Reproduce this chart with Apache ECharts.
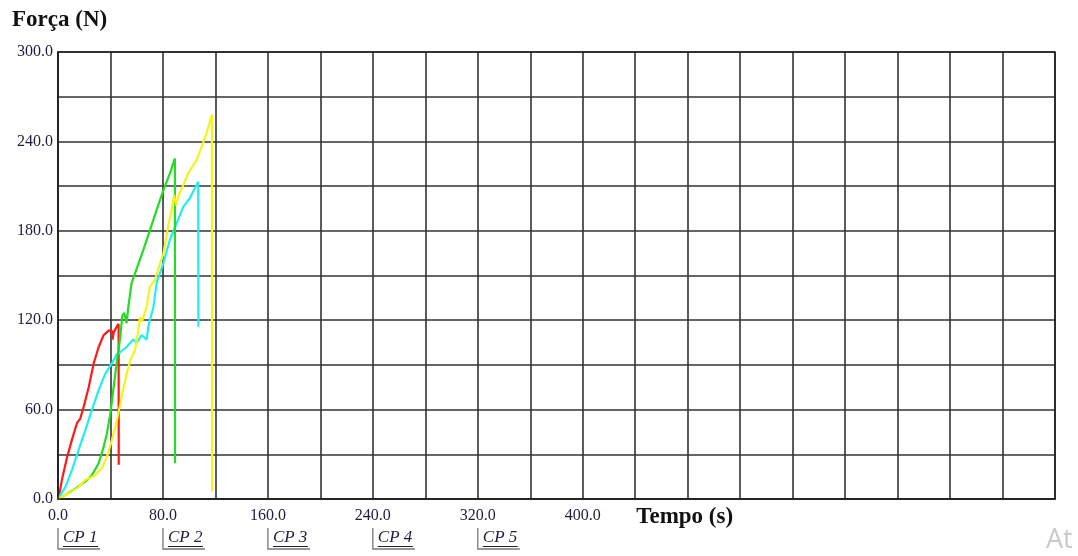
<!DOCTYPE html>
<html>
<head>
<meta charset="utf-8">
<script src="https://cdn.jsdelivr.net/npm/echarts@6/dist/echarts.min.js"></script>
<style>
html,body{margin:0;padding:0;background:#fff;}
#chart{width:1078px;height:556px;}
</style>
</head>
<body>
<div id="chart"></div>
<script>
// ---- data (tempo s, força N) ----
const redT = [0,1,3,6.9,10.7,14.5,17,19.6,23.4,27.2,31,34.8,38.6,41,41.6,42.5,45,46.2,46.3];
const redF = [0,3,13,28,40,51,54,62,75,91,102,110,113,113,107,112,116,117.5,23];

const cyanT = [0,5.6,10.7,15.7,20.8,25.9,31,36,41,44.7,48,52.3,57.4,60,63.8,67.6,68.8,70,72.6,75.2,77.7,80.2,85.3,90.4,95.5,100.6,104,106.9,107];
const cyanF = [0,8,19.5,33,46,60,73,84,91,97,99,102,107,105,110,107,115.6,120,128,145,151.5,158,174,185,196,202,208,213,115.6];

const greenT = [0,5.6,13.2,20.8,25.9,31,34.8,37.3,39.9,42.4,45,47.5,49,50.5,52.3,53.6,56.1,58.7,65,70.1,75.2,80.2,85.3,89.1,89.2];
const greenF = [0,2.7,7,11.6,16,24,35,44,57.5,75,93,109,123,125,118,129,145,151.5,167,180.5,194,207,218.6,228.6,24];

const yellowT = [0,8.1,15.7,20.8,28.4,33.5,37.3,41.1,45,47.5,50,52.6,55.1,58.7,61.2,62.5,64,67.6,70.1,73.9,77.7,80.2,84,86.6,88.5,90,92,94.2,99.3,105.7,109.5,113,117.3,117.5];
const yellowF = [0,3.8,8,12.8,16,20.6,28.4,39.6,53,64,75,85,93,100,113,122,119,129,142.5,147,158,164,183,194,204,197,204,208,218.6,227.5,236.4,245,258,5];

const cpLabels = ['CP 1','CP 2','CP 3','CP 4','CP 5'];
const cpAt = [0,80,160,240,320];

const xLabelMax = 400;
const yTitle = 'Força (N)';
const xTitle = 'Tempo (s)';

function pairs(t,f){ return t.map((v,i)=>[v,f[i]]); }

const serif = '"Liberation Serif","DejaVu Serif",serif';
const labelColor = '#1e1e3c';

const chart = echarts.init(document.getElementById('chart'));
function lineSeries(name, t, f, color){
  return {name, type:'line', data:pairs(t,f), showSymbol:false, smooth:false,
    lineStyle:{color, width:2.2}, itemStyle:{color}, animation:false};
}
chart.setOption({
  animation:false,
  grid:{left:58, right:23, top:52, bottom:57},
  xAxis:{type:'value', min:0, max:760, interval:40,
    axisLine:{show:true, lineStyle:{color:'#222', width:1.6}},
    axisTick:{show:false},
    splitLine:{show:true, lineStyle:{color:'#333', width:1.6}},
    axisLabel:{show:true, interval:0, margin:9, color:labelColor, fontFamily:serif, fontSize:16,
      showMaxLabel:true,
      formatter:v=> (v%80===0 && v<=xLabelMax) ? v.toFixed(1) : ''}
  },
  yAxis:{type:'value', min:0, max:300, interval:30,
    axisLine:{show:true, lineStyle:{color:'#222', width:1.6}},
    axisTick:{show:false},
    splitLine:{show:true, lineStyle:{color:'#333', width:1.6}},
    axisLabel:{margin:5, color:labelColor, fontFamily:serif, fontSize:16,
      formatter:v=> v%60===0 ? v.toFixed(1) : ''}
  },
  series:[
    lineSeries('CP 1', redT, redF, '#ff1a1a'),
    lineSeries('CP 4', cyanT, cyanF, '#22eeee'),
    lineSeries('CP 2', greenT, greenF, '#22dd22'),
    lineSeries('CP 3', yellowT, yellowF, '#f4f41a')
  ]
});

const g = [];
const tl = chart.convertToPixel({gridIndex:0},[0,300]);
const br = chart.convertToPixel({gridIndex:0},[760,0]);
g.push({type:'rect', shape:{x:tl[0], y:tl[1], width:br[0]-tl[0], height:br[1]-tl[1]},
  style:{fill:'none', stroke:'#222', lineWidth:1.6}, silent:true, z:10});

g.push({type:'text', x:12, y:9, style:{text:yTitle, font:'bold 23px '+serif, fill:'#111'}});
const xt = chart.convertToPixel({xAxisIndex:0}, 440);
g.push({type:'text', x:xt+1, y:506, style:{text:xTitle, font:'bold 23px '+serif, fill:'#111'}});

cpAt.forEach((t,i)=>{
  const px = chart.convertToPixel({xAxisIndex:0}, t);
  g.push({type:'polyline', shape:{points:[[px,528],[px,549],[px+42,549]]},
    style:{stroke:'#777', lineWidth:1.3, fill:'none'}, silent:true});
  g.push({type:'text', x:px+5, y:529, style:{text:cpLabels[i], font:'italic 17px '+serif, fill:labelColor}});
  g.push({type:'line', shape:{x1:px+5, y1:546.5, x2:px+40, y2:546.5},
    style:{stroke:labelColor, lineWidth:1}, silent:true});
});

g.push({type:'text', x:1046, y:527, style:{text:'At', font:'27px "Open Sans","Noto Sans",sans-serif', fill:'#c9c9c9'}});
chart.setOption({graphic:g});
</script>
</body>
</html>
